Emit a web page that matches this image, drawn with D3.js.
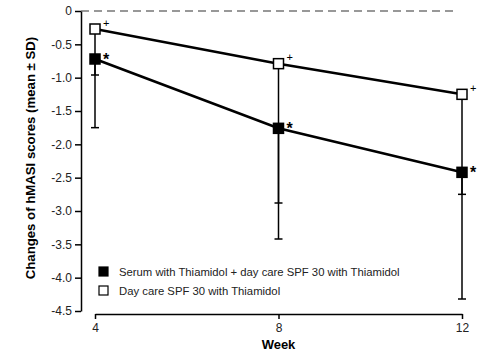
<!DOCTYPE html>
<html>
<head>
<meta charset="utf-8">
<script src="https://cdn.jsdelivr.net/npm/d3@7"></script>
<style>
  body { margin: 0; background: #fff; }
  svg { display: block; font-family: Arial, "Liberation Sans", sans-serif; }
</style>
</head>
<body>
<svg id="svg" width="486" height="353"></svg>
<script>
// data
const weeks = [4, 8, 12];
const serumMean = [-0.72, -1.76, -2.42];
const serumSD = [1.03, 1.66, 1.90];
const dayCareMean = [-0.27, -0.79, -1.25];
const dayCareSD = [0.69, 2.09, 1.50];
const yTicks = [0, -0.5, -1.0, -1.5, -2.0, -2.5, -3.0, -3.5, -4.0, -4.5];
const legendLabels = [
  'Serum with Thiamidol + day care SPF 30 with Thiamidol',
  'Day care SPF 30 with Thiamidol'
];

const series = [
  {name: legendLabels[0], mean: serumMean, sd: serumSD, fill: '#000', mark: '*'},
  {name: legendLabels[1], mean: dayCareMean, sd: dayCareSD, fill: '#fff', mark: '+'}
];

const svg = d3.select('#svg');

const xScale = d3.scaleLinear().domain([4, 12]).range([95, 462]);
const yScale = d3.scaleLinear().domain([0, -4.5]).range([11, 311]);
const yAxisX = 81;
const xAxisY = 314;

// zero reference line
svg.append('line')
  .attr('x1', yAxisX).attr('x2', 458)
  .attr('y1', yScale(0)).attr('y2', yScale(0))
  .attr('stroke', '#777').attr('stroke-width', 1.3)
  .attr('stroke-dasharray', '8,5');

// y axis
const yAxis = svg.append('g')
  .attr('transform', `translate(${yAxisX},0)`)
  .call(d3.axisLeft(yScale).tickValues(yTicks).tickSize(6).tickSizeOuter(0)
    .tickFormat(d => d === 0 ? '0' : d.toFixed(1)));
yAxis.selectAll('path, line').attr('stroke', '#000').attr('stroke-width', 1.5);
yAxis.selectAll('text').attr('font-size', 12).attr('fill', '#222')
  .attr('font-family', 'Arial, "Liberation Sans", sans-serif').attr('x', -9);

// x axis
const xAxis = svg.append('g')
  .attr('transform', `translate(0,${xAxisY})`)
  .call(d3.axisBottom(xScale).tickValues(weeks).tickSize(5).tickSizeOuter(0));
xAxis.selectAll('path, line').attr('stroke', '#000').attr('stroke-width', 1.5);
xAxis.selectAll('text').attr('font-size', 12).attr('fill', '#222')
  .attr('font-family', 'Arial, "Liberation Sans", sans-serif').attr('y', 9);

// axis titles
svg.append('text')
  .attr('x', xScale(8)).attr('y', 349)
  .attr('text-anchor', 'middle')
  .attr('font-size', 13).attr('font-weight', 'bold')
  .text('Week');

svg.append('text')
  .attr('transform', `translate(34.5,158) rotate(-90)`)
  .attr('text-anchor', 'middle')
  .attr('font-size', 13.2).attr('font-weight', 'bold')
  .text('Changes of hMASI scores (mean \u00b1 SD)');

const plot = svg.append('g');

// error bars (downward only)
series.forEach(s => {
  const g = plot.append('g');
  weeks.forEach((w, i) => {
    const x = xScale(w);
    const y0 = yScale(s.mean[i]);
    const y1 = yScale(s.mean[i] - s.sd[i]);
    g.append('line').attr('x1', x).attr('x2', x).attr('y1', y0).attr('y2', y1)
      .attr('stroke', '#000').attr('stroke-width', 1.5);
    g.append('line').attr('x1', x - 4).attr('x2', x + 4).attr('y1', y1).attr('y2', y1)
      .attr('stroke', '#000').attr('stroke-width', 1.5);
  });
});

// lines
const line = d3.line().x((d, i) => xScale(weeks[i])).y(d => yScale(d));
series.forEach(s => {
  plot.append('path')
    .attr('d', line(s.mean))
    .attr('fill', 'none').attr('stroke', '#000').attr('stroke-width', 2.6);
});

// markers and significance signs
const sz = 10;
series.forEach(s => {
  weeks.forEach((w, i) => {
    const x = xScale(w), y = yScale(s.mean[i]);
    plot.append('rect')
      .attr('x', x - sz / 2).attr('y', y - sz / 2)
      .attr('width', sz).attr('height', sz)
      .attr('fill', s.fill).attr('stroke', '#000').attr('stroke-width', 1.5);
    if (s.mark === '*') {
      plot.append('text').attr('x', x + 8).attr('y', y + 5.5)
        .attr('font-size', 16).attr('font-weight', 'bold').text('*');
    } else {
      plot.append('text').attr('x', x + 8).attr('y', y - 2.5)
        .attr('font-size', 11).text('+');
    }
  });
});

// legend
const legend = svg.append('g').attr('transform', 'translate(99,267)');
series.forEach((s, i) => {
  const row = legend.append('g').attr('transform', `translate(0,${i * 19})`);
  row.append('rect')
    .attr('x', 0).attr('y', 0).attr('width', 9).attr('height', 9)
    .attr('fill', s.fill).attr('stroke', '#000').attr('stroke-width', 1.2);
  row.append('text')
    .attr('x', 20).attr('y', 9)
    .attr('font-size', 11.3).attr('fill', '#222')
    .text(s.name);
});
</script>
</body>
</html>
